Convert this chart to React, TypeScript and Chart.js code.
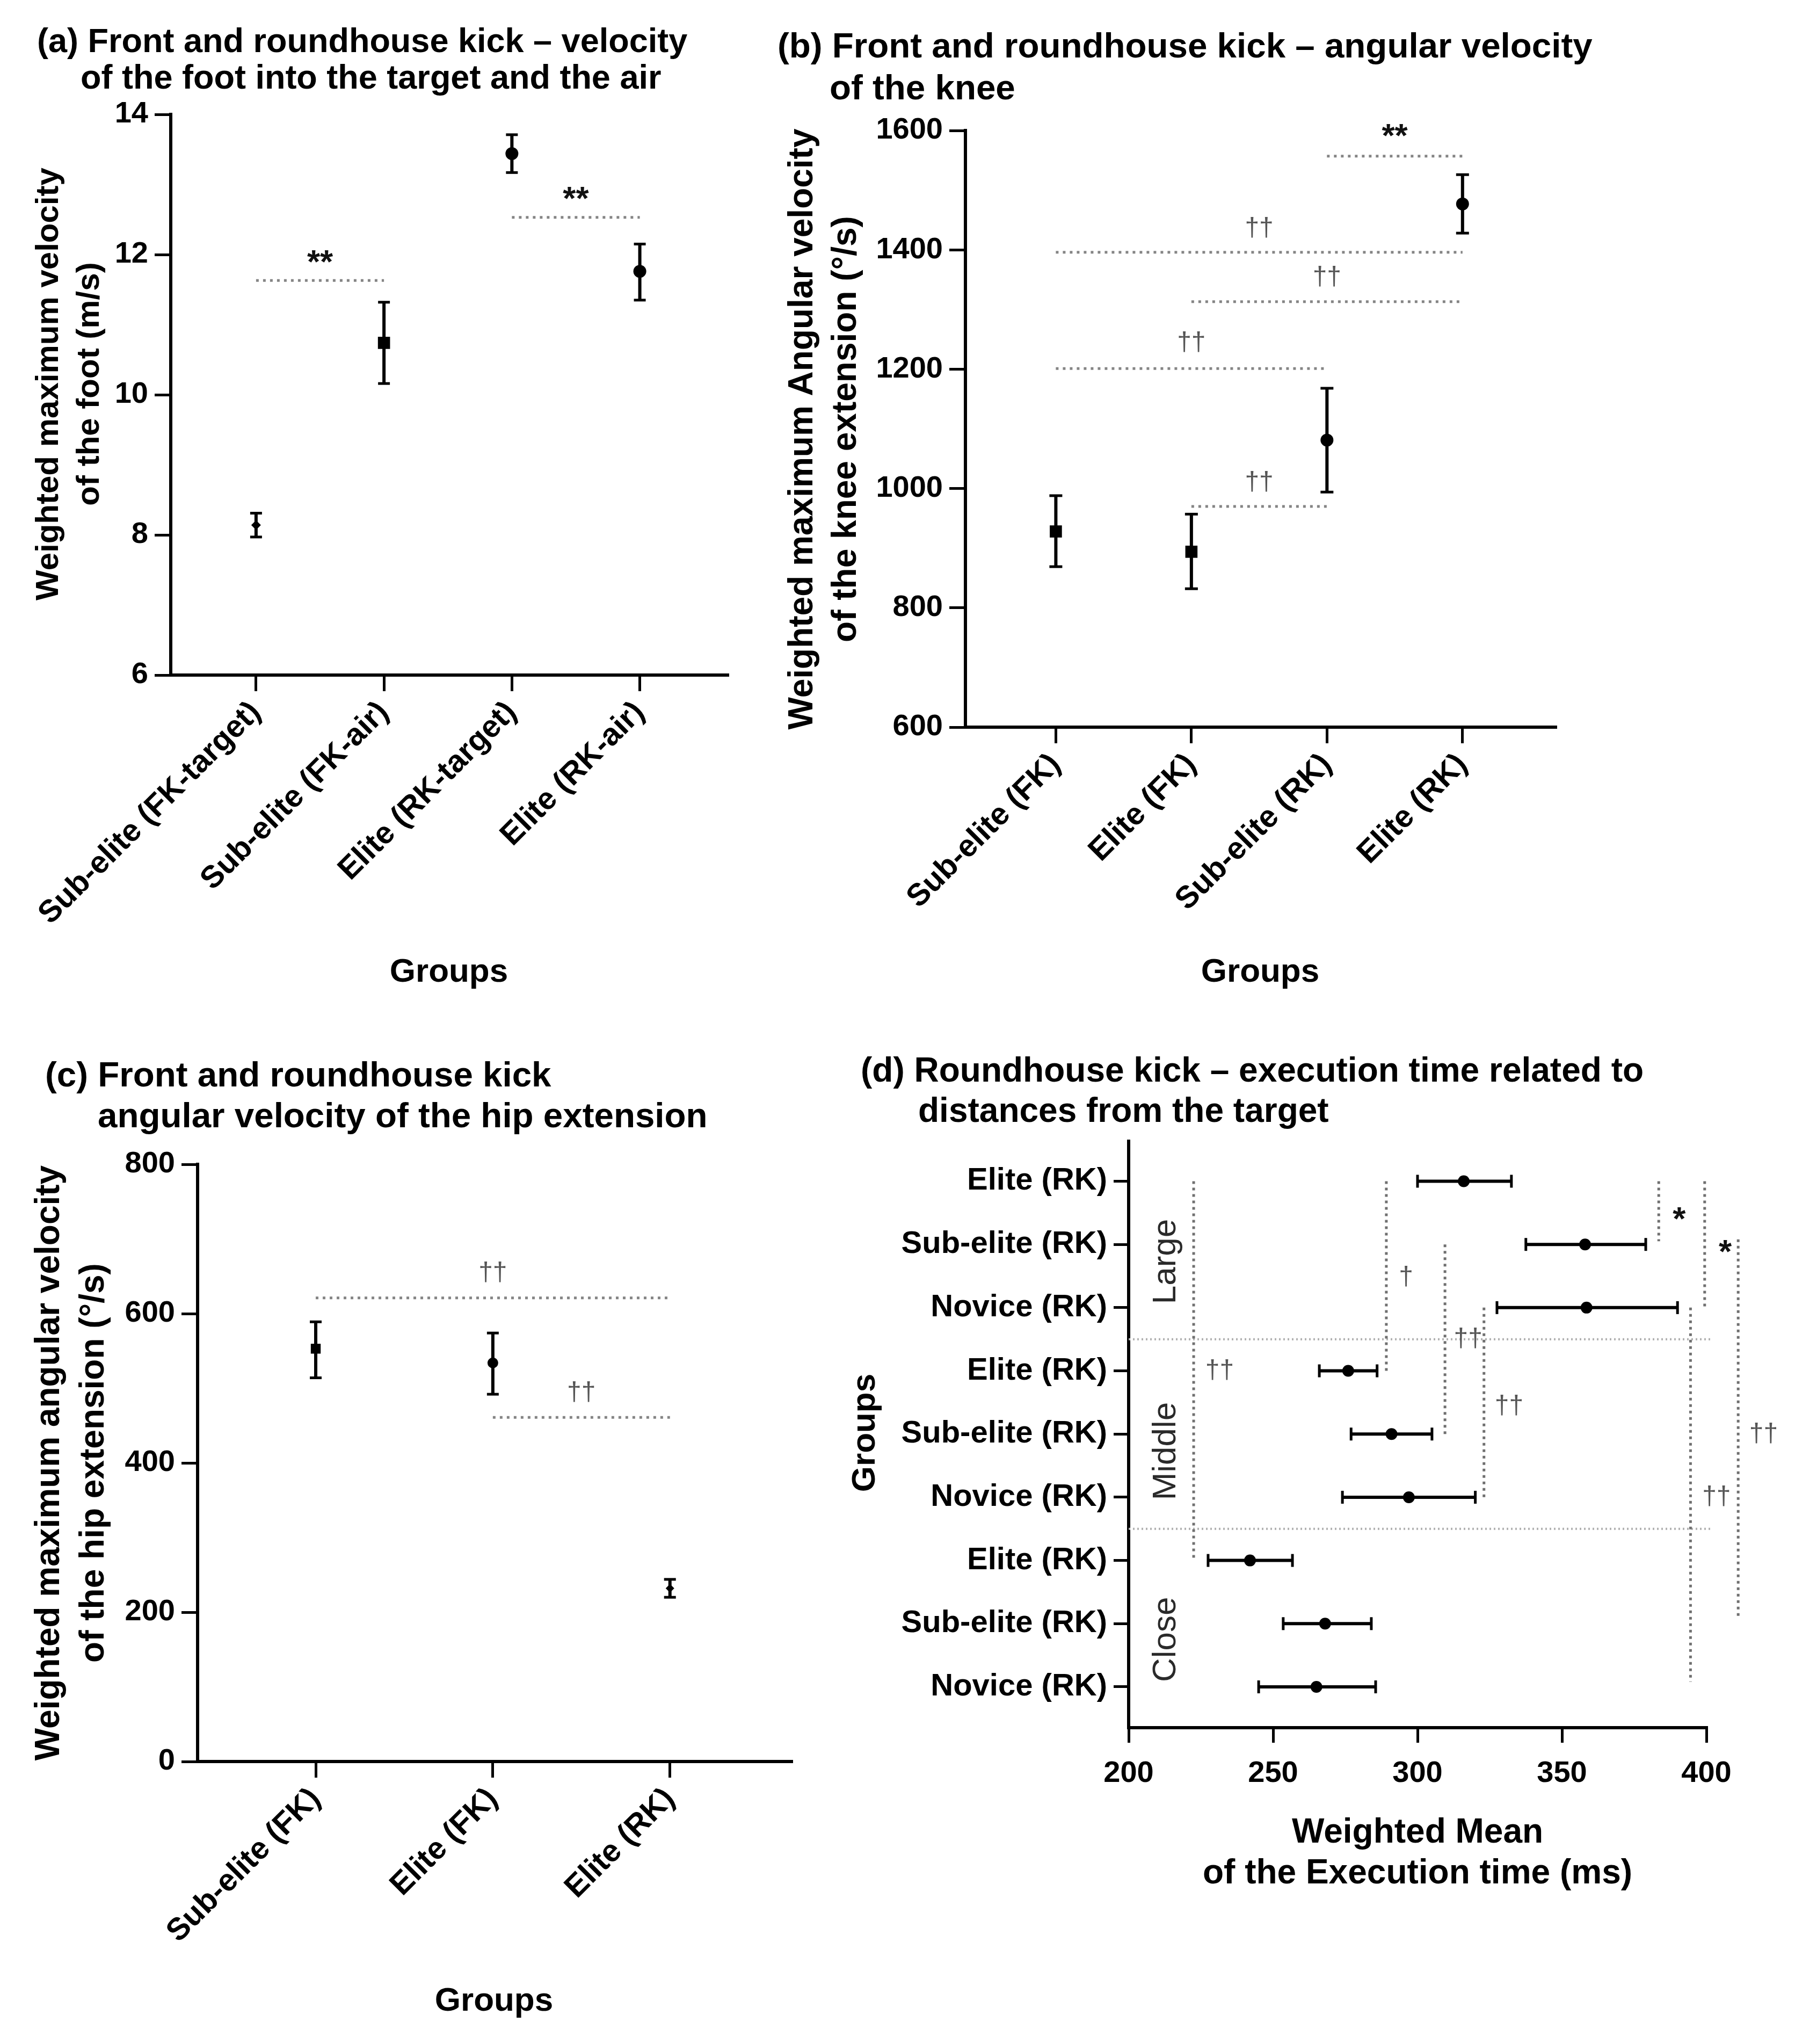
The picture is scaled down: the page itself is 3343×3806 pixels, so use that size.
import React, { useEffect, useRef } from "react";
import { Chart, registerables } from "chart.js";

Chart.register(...registerables);

const FONT = '"Liberation Sans", Arial, Helvetica, sans-serif';
const BLACK = "#000000";
const SIG_GREY = "#858585";

// ---------------- Panel (a)
const aTitle = ["(a) Front and roundhouse kick – velocity", "of the foot into the target and the air"];
const aYTitle = ["Weighted maximum velocity", "of the foot (m/s)"];
const aCategories = ["Sub-elite (FK-target)", "Sub-elite (FK-air)", "Elite (RK-target)", "Elite (RK-air)"];
const aMean = [8.14, 10.74, 13.44, 11.76];
const aLow = [7.97, 10.16, 13.17, 11.35];
const aHigh = [8.31, 11.32, 13.71, 12.15];
const aMarker = ["rectRot", "rect", "circle", "circle"];
const aMarkerSize = [9, 16, 12, 12];
const aYTicks = [6, 8, 10, 12, 14];
const aSigFrom = [1, 3];
const aSigTo = [2, 4];
const aSigLevel = [11.63, 12.53];
const aSigText = ["**", "**"];
const aSigTextLevel = [11.95, 12.86];

// ---------------- Panel (b)
const bTitle = ["(b) Front and roundhouse kick – angular velocity", "of the knee"];
const bYTitle = ["Weighted maximum Angular velocity", "of the knee extension (°/s)"];
const bCategories = ["Sub-elite (FK)", "Elite (FK)", "Sub-elite (RK)", "Elite (RK)"];
const bMean = [928, 894, 1081, 1477];
const bLow = [869, 832, 994, 1428];
const bHigh = [988, 957, 1168, 1526];
const bMarker = ["rect", "rect", "circle", "circle"];
const bMarkerSize = [16, 16, 12, 12];
const bYTicks = [600, 800, 1000, 1200, 1400, 1600];
const bSigFrom = [3, 1, 2, 1, 2];
const bSigTo = [4, 4, 4, 3, 3];
const bSigLevel = [1557, 1396, 1313, 1201, 970];
const bSigText = ["**", "††", "††", "††", "††"];
const bSigTextLevel = [1598, 1436, 1354, 1244, 1010];

// ---------------- Panel (c)
const cTitle = ["(c) Front and roundhouse kick", "angular velocity of the hip extension"];
const cYTitle = ["Weighted maximum angular velocity", "of the hip extension (°/s)"];
const cCategories = ["Sub-elite (FK)", "Elite (FK)", "Elite (RK)"];
const cMean = [553, 534, 232];
const cLow = [514, 492, 220];
const cHigh = [589, 574, 244];
const cMarker = ["rect", "circle", "rectRot"];
const cMarkerSize = [13, 10, 8];
const cYTicks = [0, 200, 400, 600, 800];
const cSigFrom = [1, 2];
const cSigTo = [3, 3];
const cSigLevel = [621, 461];
const cSigText = ["††", "††"];
const cSigTextLevel = [654, 494];

// ---------------- Panel (d)
const dTitle = ["(d) Roundhouse kick – execution time related to", "distances from the target"];
const dXTitle = ["Weighted Mean", "of the Execution time (ms)"];
const dYTitle = "Groups";
const dCategories = [
  "Elite (RK)", "Sub-elite (RK)", "Novice (RK)",
  "Elite (RK)", "Sub-elite (RK)", "Novice (RK)",
  "Elite (RK)", "Sub-elite (RK)", "Novice (RK)",
];
const dMean = [316, 358, 358.5, 276, 291, 297, 242, 268, 265];
const dLow = [300, 337.5, 327.5, 266, 277, 274, 227.5, 253.5, 245];
const dHigh = [332.5, 379, 390, 286, 305, 320, 256.7, 284, 285.5];
const dXTicks = [200, 250, 300, 350, 400];
const dGroups = ["Large", "Middle", "Close"];
const dGroupRows = [1.27, 4.27, 7.25];
const dGroupValue = 213;
const dSepRows = [2.5, 5.5];
const dSepEnd = 402;
const dSigX = [222.5, 289.2, 309.5, 323, 383.5, 399.4, 394.5, 411];
const dSigFromRow = [0, 0, 1, 2, 0, 0, 2, 0.92];
const dSigToRow = [6, 3, 4, 5, 0.95, 2, 7.92, 6.9];
const dSigText = ["††", "†", "††", "††", "*", "*", "††", "††"];
const dSigTextX = [231.5, 296, 317.5, 331.7, 390.6, 406.5, 403.5, 419.8];
const dSigTextRow = [3.0, 1.52, 2.5, 3.56, 0.53, 1.05, 5.0, 4.0];

const groupsTitle = "Groups";

// ---------------- helpers
type Txt = {
  text: string;
  x: number;
  y: number;
  size: number;
  weight?: string;
  color?: string;
  align?: CanvasTextAlign;
  rotate?: boolean;
};

function fixedText(items: Txt[]) {
  return {
    id: "fixedText",
    afterDraw(chart: any) {
      const ctx: CanvasRenderingContext2D = chart.ctx;
      for (const t of items) {
        ctx.save();
        ctx.font = `${t.weight ?? "bold"} ${t.size}px ${FONT}`;
        ctx.fillStyle = t.color ?? BLACK;
        ctx.textAlign = t.align ?? "left";
        ctx.textBaseline = "middle";
        ctx.translate(t.x, t.y);
        if (t.rotate) ctx.rotate(-Math.PI / 2);
        ctx.fillText(t.text, 0, 0);
        ctx.restore();
      }
    },
  };
}

function sigTextPlugin(texts: string[], xs: number[], ys: number[]) {
  return {
    id: "sigText",
    afterDatasetsDraw(chart: any) {
      const ctx: CanvasRenderingContext2D = chart.ctx;
      const sx = chart.scales.x;
      const sy = chart.scales.y;
      texts.forEach((t, i) => {
        const star = t.indexOf("*") >= 0;
        const size = star ? 62 : 48;
        ctx.save();
        ctx.font = `${star ? "bold" : "normal"} ${size}px ${FONT}`;
        ctx.fillStyle = star ? "#111111" : "#555555";
        ctx.textAlign = "center";
        ctx.textBaseline = "alphabetic";
        ctx.fillText(t, sx.getPixelForValue(xs[i]), sy.getPixelForValue(ys[i]) + (star ? 0.45 : 0.28) * size);
        ctx.restore();
      });
    },
  };
}

function groupLabelPlugin(labels: string[], rows: number[], xVal: number) {
  return {
    id: "groupLabels",
    afterDatasetsDraw(chart: any) {
      const ctx: CanvasRenderingContext2D = chart.ctx;
      const sx = chart.scales.x;
      const sy = chart.scales.y;
      labels.forEach((l, i) => {
        ctx.save();
        ctx.font = `normal 62px ${FONT}`;
        ctx.fillStyle = "#2a2a2a";
        ctx.textAlign = "center";
        ctx.textBaseline = "middle";
        ctx.translate(sx.getPixelForValue(xVal), sy.getPixelForValue(rows[i]));
        ctx.rotate(-Math.PI / 2);
        ctx.fillText(l, 0, 0);
        ctx.restore();
      });
    },
  };
}

const axisGrid = (len: number) => ({
  display: true,
  drawOnChartArea: false,
  drawTicks: true,
  tickLength: len,
  tickWidth: 5,
  tickColor: BLACK,
  color: BLACK,
  lineWidth: 5,
});
const axisBorder = { display: true, color: BLACK, width: 6 };
const tickFont = (size: number) => ({ family: FONT, size, weight: "bold" as const });

interface Frame {
  top: number;
  right: number;
  yWidth: number;
  xHeight: number;
  xMin: number;
  xMax: number;
}

interface VP {
  categories: string[];
  mean: number[];
  low: number[];
  high: number[];
  markers: string[];
  markerSize: number[];
  capRadius: number;
  yMin: number;
  yMax: number;
  yTicks: number[];
  sigFrom: number[];
  sigTo: number[];
  sigLevel: number[];
  sigText: string[];
  sigTextLevel: number[];
  frame: Frame;
  texts: Txt[];
}

function verticalConfig(p: VP): any {
  const err: any[] = [];
  p.categories.forEach((_, i) => {
    err.push({ x: i + 1, y: p.low[i] }, { x: i + 1, y: p.high[i] }, { x: i + 1, y: null });
  });
  const sig = p.sigFrom.map((f, i) => ({
    type: "line",
    data: [
      { x: f, y: p.sigLevel[i] },
      { x: p.sigTo[i], y: p.sigLevel[i] },
    ],
    borderColor: SIG_GREY,
    borderWidth: 5,
    borderDash: [5, 8],
    pointRadius: 0,
    clip: false,
    order: 3,
  }));
  const mids = p.sigFrom.map((f, i) => (f + p.sigTo[i]) / 2);
  return {
    type: "line",
    data: {
      datasets: [
        {
          data: p.mean.map((m, i) => ({ x: i + 1, y: m })),
          showLine: false,
          pointStyle: p.markers,
          pointRadius: p.markerSize,
          pointBackgroundColor: BLACK,
          pointBorderColor: BLACK,
          pointBorderWidth: 0,
          order: 1,
        },
        {
          data: err,
          borderColor: BLACK,
          borderWidth: 6,
          spanGaps: false,
          pointStyle: "line",
          pointRadius: p.capRadius,
          pointBorderColor: BLACK,
          pointBorderWidth: 5,
          order: 2,
        },
        ...sig,
      ],
    },
    options: {
      responsive: false,
      animation: false,
      devicePixelRatio: 1,
      events: [],
      layout: { autoPadding: false, padding: { left: 0, top: p.frame.top, right: p.frame.right, bottom: 0 } },
      plugins: { legend: { display: false }, tooltip: { enabled: false }, title: { display: false } },
      scales: {
        x: {
          type: "linear",
          min: p.frame.xMin,
          max: p.frame.xMax,
          afterBuildTicks: (s: any) => {
            s.ticks = p.categories.map((_, i) => ({ value: i + 1 }));
          },
          afterFit: (s: any) => {
            s.height = p.frame.xHeight;
          },
          ticks: {
            autoSkip: false,
            minRotation: 45,
            maxRotation: 45,
            padding: 6,
            color: BLACK,
            font: tickFont(58),
            callback: (v: any) => p.categories[Math.round(Number(v)) - 1] ?? "",
          },
          grid: axisGrid(30),
          border: axisBorder,
        },
        y: {
          type: "linear",
          min: p.yMin,
          max: p.yMax,
          afterBuildTicks: (s: any) => {
            s.ticks = p.yTicks.map((v) => ({ value: v }));
          },
          afterFit: (s: any) => {
            s.width = p.frame.yWidth;
          },
          ticks: { padding: 12, color: BLACK, font: tickFont(56), callback: (v: any) => String(v) },
          grid: axisGrid(30),
          border: axisBorder,
        },
      },
    },
    plugins: [sigTextPlugin(p.sigText, mids, p.sigTextLevel), fixedText(p.texts)],
  };
}

function configA() {
  return verticalConfig({
    categories: aCategories,
    mean: aMean,
    low: aLow,
    high: aHigh,
    markers: aMarker,
    markerSize: aMarkerSize,
    capRadius: 11,
    yMin: 6,
    yMax: 14,
    yTicks: aYTicks,
    sigFrom: aSigFrom,
    sigTo: aSigTo,
    sigLevel: aSigLevel,
    sigText: aSigText,
    sigTextLevel: aSigTextLevel,
    frame: { top: 213, right: 65, yWidth: 318, xHeight: 643, xMin: 0.333, xMax: 4.686 },
    texts: [
      { text: aTitle[0], x: 69, y: 80, size: 63 },
      { text: aTitle[1], x: 150, y: 148, size: 63 },
      { text: aYTitle[0], x: 91, y: 715, size: 60, align: "center", rotate: true },
      { text: aYTitle[1], x: 167, y: 715, size: 60, align: "center", rotate: true },
      { text: groupsTitle, x: 836, y: 1811, size: 62, align: "center" },
    ],
  });
}

function configB() {
  return verticalConfig({
    categories: bCategories,
    mean: bMean,
    low: bLow,
    high: bHigh,
    markers: bMarker,
    markerSize: bMarkerSize,
    capRadius: 12,
    yMin: 600,
    yMax: 1600,
    yTicks: bYTicks,
    sigFrom: bSigFrom,
    sigTo: bSigTo,
    sigLevel: bSigLevel,
    sigText: bSigText,
    sigTextLevel: bSigTextLevel,
    frame: { top: 243, right: 446, yWidth: 378, xHeight: 546, xMin: 0.333, xMax: 4.686 },
    texts: [
      { text: bTitle[0], x: 28, y: 89, size: 65.5 },
      { text: bTitle[1], x: 125, y: 167, size: 65.5 },
      { text: bYTitle[0], x: 75, y: 799, size: 64, align: "center", rotate: true },
      { text: bYTitle[1], x: 156, y: 799, size: 64, align: "center", rotate: true },
      { text: groupsTitle, x: 927, y: 1811, size: 62, align: "center" },
    ],
  });
}

function configC() {
  return verticalConfig({
    categories: cCategories,
    mean: cMean,
    low: cLow,
    high: cHigh,
    markers: cMarker,
    markerSize: cMarkerSize,
    capRadius: 11,
    yMin: 0,
    yMax: 800,
    yTicks: cYTicks,
    sigFrom: cSigFrom,
    sigTo: cSigTo,
    sigLevel: cSigLevel,
    sigText: cSigText,
    sigTextLevel: cSigTextLevel,
    frame: { top: 268, right: 86, yWidth: 368, xHeight: 526, xMin: 0.333, xMax: 3.686 },
    texts: [
      { text: cTitle[0], x: 84, y: 105, size: 65.5 },
      { text: cTitle[1], x: 182, y: 181, size: 65.5 },
      { text: cYTitle[0], x: 92, y: 824, size: 64, align: "center", rotate: true },
      { text: cYTitle[1], x: 175, y: 824, size: 64, align: "center", rotate: true },
      { text: groupsTitle, x: 920, y: 1827, size: 62, align: "center" },
    ],
  });
}

function configD(): any {
  const err: any[] = [];
  dCategories.forEach((_, i) => {
    err.push({ x: dLow[i], y: i }, { x: dHigh[i], y: i }, { x: dLow[i], y: null });
  });
  const seps = dSepRows.map((r) => ({
    type: "line",
    data: [
      { x: 200, y: r },
      { x: dSepEnd, y: r },
    ],
    borderColor: "#b0b0b0",
    borderWidth: 4,
    borderDash: [3, 5],
    pointRadius: 0,
    clip: false,
    order: 4,
  }));
  const sig = dSigX.map((xv, i) => ({
    type: "line",
    data: [
      { x: xv, y: dSigFromRow[i] },
      { x: xv, y: dSigToRow[i] },
    ],
    borderColor: "#707070",
    borderWidth: 5,
    borderDash: [5, 7],
    pointRadius: 0,
    clip: false,
    order: 3,
  }));
  return {
    type: "line",
    data: {
      datasets: [
        {
          data: dMean.map((m, i) => ({ x: m, y: i })),
          showLine: false,
          pointStyle: "circle",
          pointRadius: 11,
          pointBackgroundColor: BLACK,
          pointBorderColor: BLACK,
          pointBorderWidth: 0,
          order: 1,
        },
        {
          data: err,
          borderColor: BLACK,
          borderWidth: 6,
          spanGaps: false,
          pointStyle: "line",
          pointRotation: 90,
          pointRadius: 12,
          pointBorderColor: BLACK,
          pointBorderWidth: 5,
          order: 2,
        },
        ...sig,
        ...seps,
      ],
    },
    options: {
      responsive: false,
      animation: false,
      devicePixelRatio: 1,
      events: [],
      layout: { autoPadding: false, padding: { left: 0, top: 225, right: 165, bottom: 0 } },
      plugins: { legend: { display: false }, tooltip: { enabled: false }, title: { display: false } },
      scales: {
        x: {
          type: "linear",
          min: 200,
          max: 400,
          afterBuildTicks: (s: any) => {
            s.ticks = dXTicks.map((v) => ({ value: v }));
          },
          afterFit: (s: any) => {
            s.height = 589;
          },
          ticks: {
            minRotation: 0,
            maxRotation: 0,
            padding: 24,
            color: BLACK,
            font: tickFont(56),
            callback: (v: any) => String(v),
          },
          grid: axisGrid(28),
          border: axisBorder,
        },
        y: {
          type: "linear",
          reverse: true,
          min: -0.633,
          max: 8.646,
          afterBuildTicks: (s: any) => {
            s.ticks = dCategories.map((_, i) => ({ value: i }));
          },
          afterFit: (s: any) => {
            s.width = 542;
          },
          ticks: {
            autoSkip: false,
            padding: 12,
            color: BLACK,
            font: tickFont(58),
            callback: (v: any) => dCategories[Math.round(Number(v))] ?? "",
          },
          grid: axisGrid(28),
          border: axisBorder,
        },
      },
    },
    plugins: [
      sigTextPlugin(dSigText, dSigTextX, dSigTextRow),
      groupLabelPlugin(dGroups, dGroupRows, dGroupValue),
      fixedText([
        { text: dTitle[0], x: 43, y: 96, size: 64 },
        { text: dTitle[1], x: 150, y: 171, size: 64 },
        { text: dYTitle, x: 52, y: 768, size: 62, align: "center", rotate: true },
        { text: dXTitle[0], x: 1080, y: 1513, size: 64, align: "center" },
        { text: dXTitle[1], x: 1080, y: 1589, size: 64, align: "center" },
      ]),
    ],
  };
}

function ChartCanvas(props: { left: number; top: number; width: number; height: number; make: () => any }) {
  const ref = useRef<HTMLCanvasElement | null>(null);
  useEffect(() => {
    if (!ref.current) return;
    const chart = new Chart(ref.current, props.make());
    return () => chart.destroy();
  }, []);
  return (
    <canvas
      ref={ref}
      width={props.width}
      height={props.height}
      style={{ position: "absolute", left: props.left, top: props.top, width: props.width, height: props.height }}
    />
  );
}

export default function App() {
  return (
    <div
      style={{
        position: "absolute",
        left: 0,
        top: 0,
        width: 3343,
        height: 3806,
        background: "#ffffff",
        overflow: "hidden",
      }}
    >
      <ChartCanvas left={0} top={0} width={1420} height={1900} make={configA} />
      <ChartCanvas left={1420} top={0} width={1923} height={1900} make={configB} />
      <ChartCanvas left={0} top={1900} width={1560} height={1906} make={configC} />
      <ChartCanvas left={1560} top={1900} width={1783} height={1906} make={configD} />
    </div>
  );
}
